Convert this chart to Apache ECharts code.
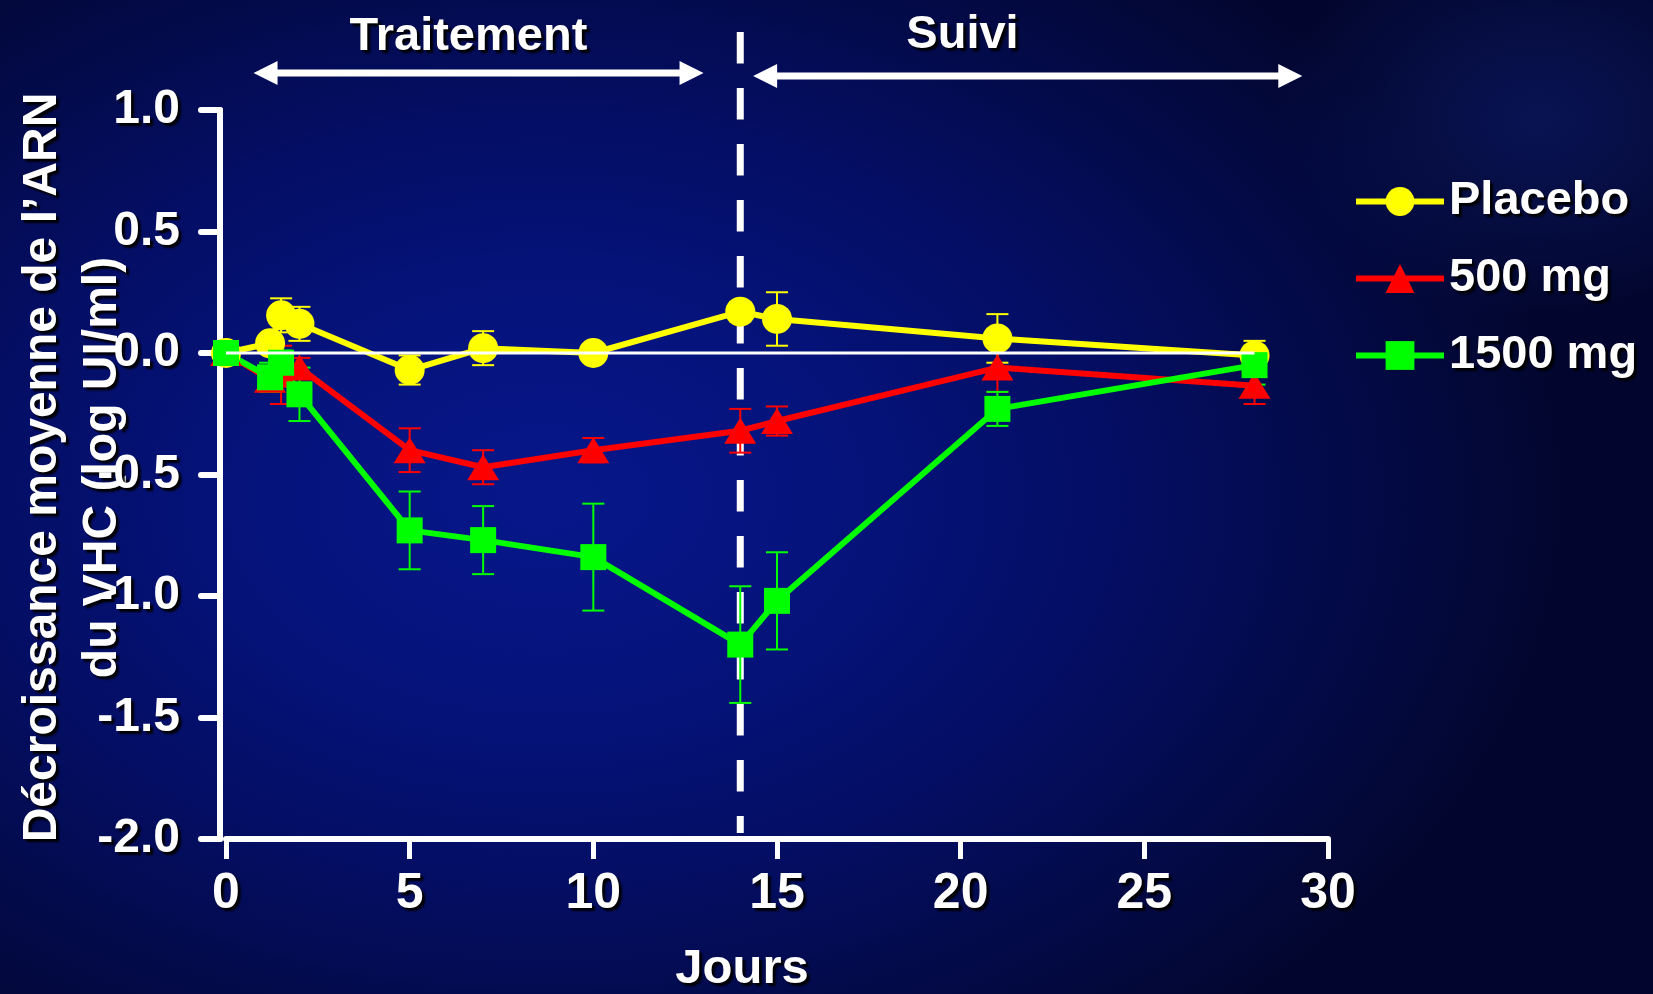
<!DOCTYPE html>
<html>
<head>
<meta charset="utf-8">
<script src="https://cdn.jsdelivr.net/npm/echarts@6/dist/echarts.min.js"></script>
<style>
  html, body { margin: 0; padding: 0; }
  body {
    width: 1653px; height: 994px; overflow: hidden;
    background:
      radial-gradient(ellipse 16% 20% at 93% 12%, rgba(20,40,140,0.40) 0%, rgba(20,40,140,0) 100%),
      radial-gradient(ellipse 62% 70% at 33% 50%, #07178a 0%, #05137c 28%, #040e64 55%, #030a46 80%, #02062e 100%);
  }
  #chart { width: 1653px; height: 994px; }
</style>
</head>
<body>
<div id="chart"></div>
<script>
// Days of measurement
const days = [0, 1.2, 1.5, 2, 5, 7, 10, 14, 15, 21, 28];

// Mean change in HCV RNA (log IU/ml) and standard errors per group
const placebo    = [0, 0.04, 0.155, 0.12, -0.07, 0.02, 0.00, 0.17, 0.14, 0.06, -0.01];
const placeboErr = [0, 0.02, 0.07, 0.07, 0.06, 0.07, 0.03, 0.04, 0.11, 0.10, 0.06];
const dose500    = [0, -0.11, -0.09, -0.06, -0.40, -0.47, -0.40, -0.32, -0.28, -0.06, -0.135];
const dose500Err = [0, 0.05, 0.12, 0.04, 0.09, 0.07, 0.05, 0.09, 0.06, 0.10, 0.075];
const dose1500    = [0, -0.10, -0.04, -0.17, -0.73, -0.77, -0.84, -1.20, -1.02, -0.23, -0.05];
const dose1500Err = [0, 0.06, 0.05, 0.11, 0.16, 0.14, 0.22, 0.24, 0.20, 0.07, 0.08];

const seriesNames = ['Placebo', '500 mg', '1500 mg'];
const xTicks = [0, 30, 5];        // min, max, step (Jours)
const yTicks = [-2, 1, 0.5];      // min, max, step

// Study phases shown above the plot (in days)
const phaseNames = ['Traitement', 'Suivi'];
const phaseStart = [0.75, 14.35];
const phaseEnd   = [13.0, 29.3];
const phaseLabelDay = [6.6, 20.05];
const treatmentEndDay = 14;
const zeroLineEnd = 28;

const FONT = '"Liberation Sans", Arial, sans-serif';
const shadow = { textShadowColor: 'rgba(0,0,0,0.95)', textShadowOffsetX: 3, textShadowOffsetY: 3, textShadowBlur: 2 };
const colors = ['#ffff00', '#ff0000', '#00ff00'];

function pts(vals) { return days.map((d, i) => [d, vals[i]]); }
function errPts(vals, errs) { return days.map((d, i) => [d, vals[i], errs[i]]); }

function errorBars(name, vals, errs, color) {
  return {
    type: 'custom', name: name + ' SE', z: 1, silent: true, clip: false,
    data: errPts(vals, errs),
    encode: { x: 0, y: 1 },
    renderItem: function (params, api) {
      const x = api.value(0), y = api.value(1), e = api.value(2);
      if (!e) return null;
      const top = api.coord([x, y + e]);
      const bot = api.coord([x, y - e]);
      const half = 11;
      const style = { stroke: color, lineWidth: 2 };
      return {
        type: 'group',
        children: [
          { type: 'line', shape: { x1: top[0], y1: top[1], x2: bot[0], y2: bot[1] }, style: style },
          { type: 'line', shape: { x1: top[0] - half, y1: top[1], x2: top[0] + half, y2: top[1] }, style: style },
          { type: 'line', shape: { x1: bot[0] - half, y1: bot[1], x2: bot[0] + half, y2: bot[1] }, style: style }
        ]
      };
    }
  };
}

function lineSeries(name, vals, color, symbol, size) {
  return {
    type: 'line', name: name, z: 3,
    data: pts(vals),
    symbol: symbol, symbolSize: size,
    lineStyle: { color: color, width: 6 },
    itemStyle: { color: color, borderWidth: 0 },
    animation: false
  };
}

const chart = echarts.init(document.getElementById('chart'), null, { renderer: 'canvas' });

chart.setOption({
  animation: false,
  backgroundColor: 'transparent',
  textStyle: { fontFamily: FONT },
  grid: { left: 226, right: 325, top: 110, bottom: 155, containLabel: false, outerBoundsMode: 'none' },
  legend: {
    data: seriesNames,
    orient: 'vertical',
    left: 1348, top: 173,
    itemWidth: 88, itemHeight: 36, itemGap: 30,
    lineStyle: { width: 6 },
    textStyle: Object.assign({ color: '#fff', fontSize: 47, fontWeight: 'bold', fontFamily: FONT, lineHeight: 46 }, shadow)
  },
  xAxis: {
    type: 'value', min: xTicks[0], max: xTicks[1], interval: xTicks[2],
    name: 'Jours', nameLocation: 'middle', nameGap: 106, nameMoveOverlap: false,
    nameTextStyle: Object.assign({ color: '#fff', fontSize: 49, fontWeight: 'bold', fontFamily: FONT, padding: [0, 70, 0, 0] }, shadow),
    axisLine: { show: true, onZero: false, lineStyle: { color: '#fff', width: 6, cap: 'round' } },
    axisTick: { show: true, length: 20, lineStyle: { color: '#fff', width: 5 } },
    axisLabel: Object.assign({ color: '#fff', fontSize: 50, fontWeight: 'bold', fontFamily: FONT, margin: 30 }, shadow),
    splitLine: { show: false }
  },
  yAxis: {
    type: 'value', min: yTicks[0], max: yTicks[1], interval: yTicks[2],
    offset: 6,
    name: 'Décroissance moyenne de l\u2019ARN\ndu VHC (log UI/ml)',
    nameLocation: 'middle', nameRotate: 90, nameGap: 87, nameMoveOverlap: false,
    nameTextStyle: Object.assign({ color: '#fff', fontSize: 48, fontWeight: 'bold', fontFamily: FONT, lineHeight: 60, padding: [0, 0, 0, 14] }, shadow),
    axisLine: { show: true, onZero: false, lineStyle: { color: '#fff', width: 6, cap: 'round' } },
    axisTick: { show: true, length: 19, lineStyle: { color: '#fff', width: 6, cap: 'round' } },
    axisLabel: Object.assign({
      color: '#fff', fontSize: 48, fontWeight: 'bold', fontFamily: FONT, margin: 40,
      formatter: v => v.toFixed(1)
    }, shadow),
    splitLine: { show: false }
  },
  series: [
    errorBars(seriesNames[0], placebo, placeboErr, colors[0]),
    errorBars(seriesNames[1], dose500, dose500Err, colors[1]),
    errorBars(seriesNames[2], dose1500, dose1500Err, colors[2]),
    lineSeries(seriesNames[0], placebo, colors[0], 'circle', 30),
    lineSeries(seriesNames[1], dose500, colors[1], 'triangle', [32, 26]),
    lineSeries(seriesNames[2], dose1500, colors[2], 'rect', 26),
    {
      type: 'line', name: 'zero', z: 10, silent: true,
      data: [[0, 0], [zeroLineEnd, 0]],
      symbol: 'none', lineStyle: { color: '#fff', width: 3 }
    }
  ]
});

// Phase annotations: dashed end-of-treatment line, double arrows and labels
function arrowPoints(x1, x2, y) {
  const L = 24, H = 12, t = 7;
  return [
    [x1, y], [x1 + L, y - H], [x1 + L, y - t / 2], [x2 - L, y - t / 2], [x2 - L, y - H],
    [x2, y], [x2 - L, y + H], [x2 - L, y + t / 2], [x1 + L, y + t / 2], [x1 + L, y + H]
  ];
}
const px = d => chart.convertToPixel({ xAxisIndex: 0 }, d);
const arrowY = [73, 76];
const labelY = [37, 35];
const graphics = [{
  type: 'line', z: 0,
  shape: { x1: px(treatmentEndDay), y1: 32, x2: px(treatmentEndDay), y2: 833 },
  style: { stroke: '#fff', lineWidth: 7, lineDash: [31.5, 24.5] }
}];
phaseNames.forEach((name, i) => {
  graphics.push({
    type: 'polygon', z: 5,
    shape: { points: arrowPoints(px(phaseStart[i]), px(phaseEnd[i]), arrowY[i]) },
    style: { fill: '#fff' }
  });
  graphics.push({
    type: 'text', z: 5,
    x: px(phaseLabelDay[i]), y: labelY[i],
    style: {
      text: name, fill: '#fff', font: 'bold 47px ' + FONT,
      align: 'center', verticalAlign: 'middle',
      textShadowColor: 'rgba(0,0,0,0.95)', textShadowOffsetX: 3, textShadowOffsetY: 3, textShadowBlur: 2
    }
  });
});
chart.setOption({ graphic: graphics });
</script>
</body>
</html>
